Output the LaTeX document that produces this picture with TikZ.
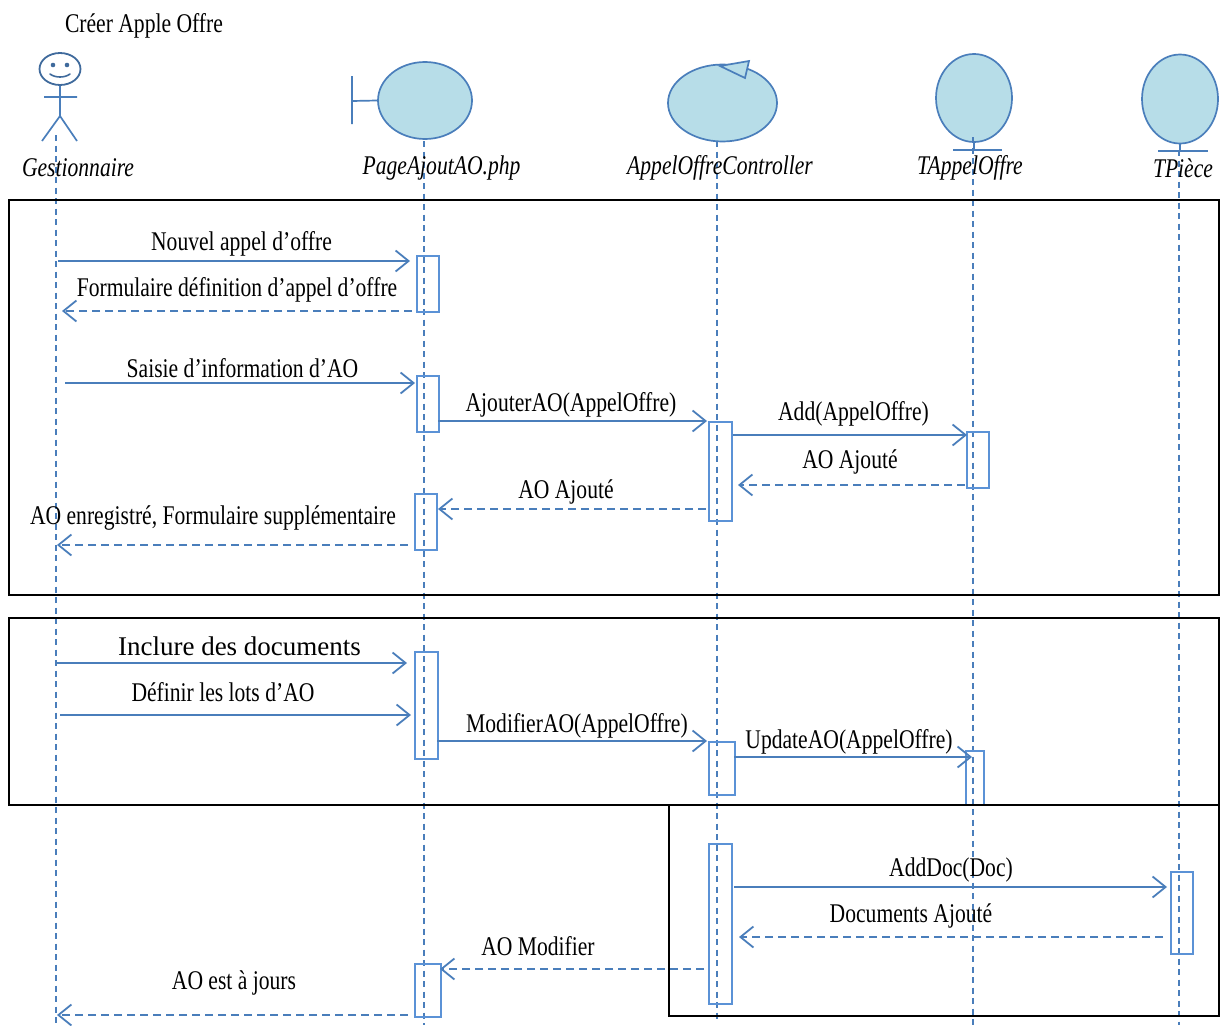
\documentclass[tikz,border=0pt]{standalone}
\usepackage{fontspec}
\setmainfont{Liberation Serif}
\newfontfamily\narrowfont[FakeStretch=0.8]{Liberation Serif}
\usetikzlibrary{arrows.meta,shapes.geometric}
\definecolor{uml}{HTML}{4A7EBB}
\definecolor{act}{HTML}{5B92D6}
\definecolor{objfill}{HTML}{B7DDE8}
\definecolor{actordark}{HTML}{3F6A9C}
\tikzset{
  frameb/.style={draw=black,line width=1.8pt},
  life/.style={draw=uml,line width=1.4pt,dash pattern=on 6pt off 4.5pt},
  obj/.style={ellipse,draw=uml,fill=objfill,line width=1.7pt,inner sep=0pt},
  part/.style={draw=uml,line width=1.7pt},
  activ/.style={rectangle,draw=act,line width=1.8pt,inner sep=0pt,anchor=north west},
  msg/.style={draw=uml,line width=1.8pt,-{Straight Barb[length=13pt,width=21pt,line width=1.8pt]}},
  ret/.style={msg,dash pattern=on 8pt off 5pt},
  lbl/.style={inner sep=0pt,font=\narrowfont\fontsize{27}{29}\selectfont,text=black},
  ilbl/.style={inner sep=0pt,font=\narrowfont\itshape\fontsize{27}{29}\selectfont,text=black},
}
\begin{document}
\begin{tikzpicture}[x=1pt,y=-1pt]
\useasboundingbox (0,0) rectangle (1225,1025);
% actor
\node[ellipse,draw=actordark,line width=1.8pt,minimum width=41pt,minimum height=32pt,inner sep=0pt] (head) at (60,69) {};
\fill[actordark] (53,65) circle (2.3pt) (67,65) circle (2.3pt);
\draw[actordark,line width=1.6pt,line cap=round] (50,74) .. controls (55,78) and (65,78) .. (70,74);
\coordinate (hip) at (60,116);
\coordinate (larm) at (44,97);
\coordinate (rarm) at (77,97);
\coordinate (lfoot) at (42,141);
\coordinate (rfoot) at (77,141);
\draw[part] (head.south) -- (hip) (larm) -- (rarm) (lfoot) -- (hip) -- (rfoot);
% boundary
\node[obj,minimum width=94pt,minimum height=77pt] (page) at (425,100.5) {};
\coordinate (bt) at (352,76);
\coordinate (bb) at (352,124);
\coordinate (bm) at (352,101);
\draw[part] (bt) -- (bb) (bm) -- (page.west);
% control
\node[obj,minimum width=109pt,minimum height=77pt] (ctrl) at (722.5,103) {};
\coordinate (t1) at (720,66);
\coordinate (t2) at (749,61);
\coordinate (t3) at (745,78);
\draw[part,fill=objfill] (t1) -- (t2) -- (t3) -- cycle;
% entities
\node[obj,minimum width=76pt,minimum height=88pt] (ent1) at (974,98) {};
\coordinate (e1l) at (953,150);
\coordinate (e1r) at (1002,150);
\coordinate (e1m) at (974,150);
\draw[part] (ent1.south) -- (e1m) (e1l) -- (e1r);
\node[obj,minimum width=76pt,minimum height=89pt] (ent2) at (1180,99) {};
\coordinate (e2l) at (1158,151);
\coordinate (e2r) at (1208,151);
\coordinate (e2m) at (1180,151);
\draw[part] (ent2.south) -- (e2m) (e2l) -- (e2r);
% lifelines
\foreach \n/\x/\yt/\yb in {g/56/135/1025,p/424/141/1025,c/717/141/1020,t/973/137/1025,d/1179/150/1025}{
  \coordinate (\n top) at (\x,\yt);
  \coordinate (\n bot) at (\x,\yb);
  \draw[life] (\n top) -- (\n bot);
}
% frames
\node[frameb,rectangle,anchor=north west,inner sep=0pt,minimum width=1210pt,minimum height=395pt] (f1) at (8,199) {};
\node[frameb,rectangle,anchor=north west,inner sep=0pt,minimum width=1210pt,minimum height=187pt] (f2) at (8,617) {};
\node[frameb,rectangle,anchor=north west,inner sep=0pt,minimum width=550pt,minimum height=211pt] (f3) at (668,804) {};
% activations
\foreach \n/\x/\y/\w/\h in {a1/416/255/22/56,a2/416/375/22/56,a3/708/421/23/99,a4/966/431/22/56,a5/414/493/22/56,a6/414/651/23/107,a7/708/741/26/53,a9/708/843/23/160,a10/1170/871/22/82,a11/414/963/26/53}{
  \node[activ,minimum width=\w pt,minimum height=\h pt] (\n) at (\x,\y) {};
}
\coordinate (a8tl) at (966,804);
\coordinate (a8a) at (966,751);
\coordinate (a8b) at (984,751);
\coordinate (a8br) at (984,804);
\draw[draw=act,line width=1.8pt] (a8tl) -- (a8a) -- (a8b) -- (a8br);
% message ends
\foreach \n/\x/\y in {m1s/58/261,m1e/410/261,m2s/412/311,m2e/62/311,m3s/65/383,m3e/415/383,m4s/438/421,m4e/707/421,m5s/733/435,m5e/967/435,m6s/965/485,m6e/738/485,m7s/706/509,m7e/438/509,m8s/408/545,m8e/57/545,m9s/56/663,m9e/407/663,m10s/60/715,m10e/411/715,m11s/437/741,m11e/707/741,m12s/734/757,m12e/972/757,m13s/734/887,m13e/1167/887,m14s/1163/937,m14e/739/937,m15s/704/969,m15e/440/969,m16s/408/1015,m16e/57/1015}{
  \coordinate (\n) at (\x,\y);
}
\foreach \i in {1,3,4,5,9,10,11,12,13}{\draw[msg] (m\i s) -- (m\i e);}
\foreach \i in {2,6,7,8,14,15,16}{\draw[ret] (m\i s) -- (m\i e);}
% labels
\node[lbl] (title) at (144,26) {Créer Apple Offre};
\node[ilbl] (lg) at (78,168) {Gestionnaire};
\node[ilbl] (lp) at (441.5,168) {PageAjoutAO.php};
\node[ilbl] (lc) at (720,168) {AppelOffreController};
\node[ilbl] (lt) at (970,168) {TAppelOffre};
\node[ilbl] (ld) at (1183,168) {TPièce};
\node[lbl] (l1) at (241.5,244) {Nouvel appel d’offre};
\node[lbl] (l2) at (237,290) {Formulaire définition d’appel d’offre};
\node[lbl] (l3) at (242.5,368) {Saisie d’information d’AO};
\node[lbl] (l4) at (571,405) {AjouterAO(AppelOffre)};
\node[lbl] (l5) at (853.5,414) {Add(AppelOffre)};
\node[lbl] (l6) at (850,462) {AO Ajouté};
\node[lbl] (l7) at (566,492) {AO Ajouté};
\node[lbl] (l8) at (213,518) {AO enregistré, Formulaire supplémentaire};
\node[inner sep=0pt,font=\fontsize{27}{29}\selectfont] (l9) at (239.5,646) {Inclure des documents};
\node[lbl] (l10) at (223,692) {Définir les lots d’AO};
\node[lbl] (l11) at (577,726) {ModifierAO(AppelOffre)};
\node[lbl] (l12) at (849,742) {UpdateAO(AppelOffre)};
\node[lbl] (l13) at (951,870) {AddDoc(Doc)};
\node[lbl] (l14) at (911,916) {Documents Ajouté};
\node[lbl] (l15) at (538,946) {AO Modifier};
\node[lbl] (l16) at (234,983) {AO est à jours};
\end{tikzpicture}
\end{document}
